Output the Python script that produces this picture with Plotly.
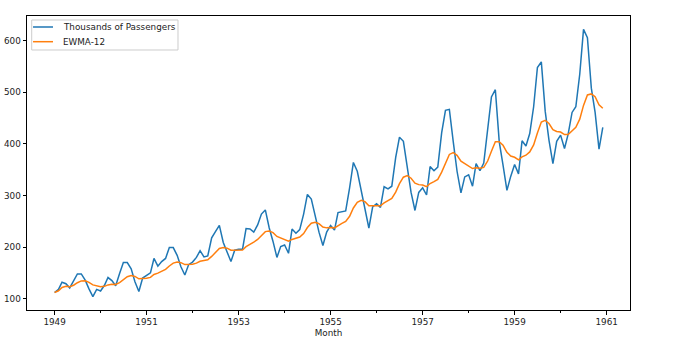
import pandas as pd
import plotly.graph_objects as go

months = pd.date_range("1949-01-01", periods=144, freq="MS").strftime("%Y-%m-%d").tolist()

passengers = [
    112, 118, 132, 129, 121, 135, 148, 148, 136, 119, 104, 118,
    115, 126, 141, 135, 125, 149, 170, 170, 158, 133, 114, 140,
    145, 150, 178, 163, 172, 178, 199, 199, 184, 162, 146, 166,
    171, 180, 193, 181, 183, 218, 230, 242, 209, 191, 172, 194,
    196, 196, 236, 235, 229, 243, 264, 272, 237, 211, 180, 201,
    204, 188, 235, 227, 234, 264, 302, 293, 259, 229, 203, 229,
    242, 233, 267, 269, 270, 315, 364, 347, 312, 274, 237, 278,
    284, 277, 317, 313, 318, 374, 413, 405, 355, 306, 271, 306,
    315, 301, 356, 348, 355, 422, 465, 467, 404, 347, 305, 336,
    340, 318, 362, 348, 363, 435, 491, 505, 404, 359, 310, 337,
    360, 342, 406, 396, 420, 472, 548, 559, 463, 407, 362, 405,
    417, 391, 419, 461, 472, 535, 622, 606, 508, 461, 390, 432,
]

ewma12 = [
    112.0, 115.3, 121.8, 124.1, 123.2, 126.1, 131.0, 134.5, 134.8, 131.8, 126.7, 125.2,
    123.4, 123.9, 126.7, 128.1, 127.6, 131.1, 137.3, 142.5, 145.0, 143.1, 138.5, 138.8,
    139.7, 141.3, 147.0, 149.5, 153.0, 156.9, 163.4, 168.9, 171.2, 169.8, 166.1, 166.1,
    166.9, 168.9, 172.6, 173.9, 175.3, 181.9, 189.3, 197.4, 199.2, 197.9, 193.9, 193.9,
    194.3, 194.5, 200.9, 206.2, 209.7, 214.8, 222.4, 230.0, 231.1, 228.0, 220.6, 217.6,
    215.5, 211.3, 214.9, 216.8, 219.4, 226.3, 237.9, 246.4, 248.3, 245.4, 238.9, 237.3,
    238.1, 237.3, 241.9, 246.0, 249.7, 259.8, 275.8, 286.8, 290.6, 288.1, 280.2, 279.9,
    280.5, 280.0, 285.7, 289.9, 294.2, 306.5, 322.9, 335.5, 338.5, 333.5, 323.9, 321.1,
    320.2, 317.2, 323.2, 327.0, 331.3, 345.3, 363.7, 379.6, 383.3, 377.8, 366.6, 361.9,
    358.5, 352.3, 353.8, 352.9, 354.4, 366.8, 385.9, 404.3, 404.2, 397.3, 383.8, 376.6,
    374.1, 369.1, 374.8, 378.1, 384.5, 398.0, 421.1, 442.3, 445.5, 439.6, 427.6, 424.1,
    423.0, 418.1, 418.3, 424.8, 432.1, 447.9, 474.7, 494.9, 496.9, 491.4, 475.8, 469.1,
]

series_names = ["Thousands of Passengers", "EWMA-12"]
series_colors = ["#1f77b4", "#ff7f0e"]

major_years = ["1949-01-01", "1951-01-01", "1953-01-01", "1955-01-01", "1957-01-01", "1959-01-01", "1961-01-01"]
major_labels = ["1949", "1951", "1953", "1955", "1957", "1959", "1961"]
minor_years = ["1950-01-01", "1952-01-01", "1954-01-01", "1956-01-01", "1958-01-01", "1960-01-01"]
y_ticks = [100, 200, 300, 400, 500, 600]

fig = go.Figure()
for name, vals, col in zip(series_names, [passengers, ewma12], series_colors):
    fig.add_trace(go.Scatter(x=months, y=vals, mode="lines", name=name,
                             line=dict(color=col, width=1.5), showlegend=False))

font = dict(family="DejaVu Sans", size=8.8, color="#222222")

# matplotlib-style legend box drawn in paper coordinates
fig.add_shape(type="rect", xref="paper", yref="paper", x0=0.0078, x1=0.2504, y0=0.8844, y1=0.9864,
              line=dict(color="#cccccc", width=1), fillcolor="rgba(255,255,255,0.8)", layer="above")
legend_rows_y = [0.9626, 0.9126]
for name, col, ly in zip(series_names, series_colors, legend_rows_y):
    fig.add_shape(type="line", xref="paper", yref="paper", x0=0.0100, x1=0.0431, y0=ly, y1=ly,
                  line=dict(color=col, width=1.5), layer="above")
    fig.add_annotation(xref="paper", yref="paper", x=0.0564, y=ly, text=name, showarrow=False,
                       xanchor="left", yanchor="middle", font=font)

fig.update_layout(
    width=682, height=341,
    margin=dict(l=27, r=52, t=16, b=31),
    plot_bgcolor="white", paper_bgcolor="white",
    font=font,
    showlegend=False,
    xaxis=dict(
        range=["1948-05-27", "1961-07-05"],
        tickmode="array", tickvals=major_years, ticktext=major_labels,
        ticks="outside", ticklen=3.5, tickwidth=1, tickcolor="#000000",
        minor=dict(tickmode="array", tickvals=minor_years, ticks="outside", ticklen=2, tickwidth=0.8,
                   tickcolor="#000000", showgrid=False),
        showline=True, linecolor="#000000", linewidth=1, mirror=True,
        showgrid=False, zeroline=False, automargin=False,
        title=dict(text="Month", font=font, standoff=3),
    ),
    yaxis=dict(
        range=[78.1, 647.9],
        tickmode="array", tickvals=y_ticks,
        ticks="outside", ticklen=3.5, tickwidth=1, tickcolor="#000000",
        showline=True, linecolor="#000000", linewidth=1, mirror=True,
        showgrid=False, zeroline=False, automargin=False,
    ),
)

fig.write_html("out.html")
